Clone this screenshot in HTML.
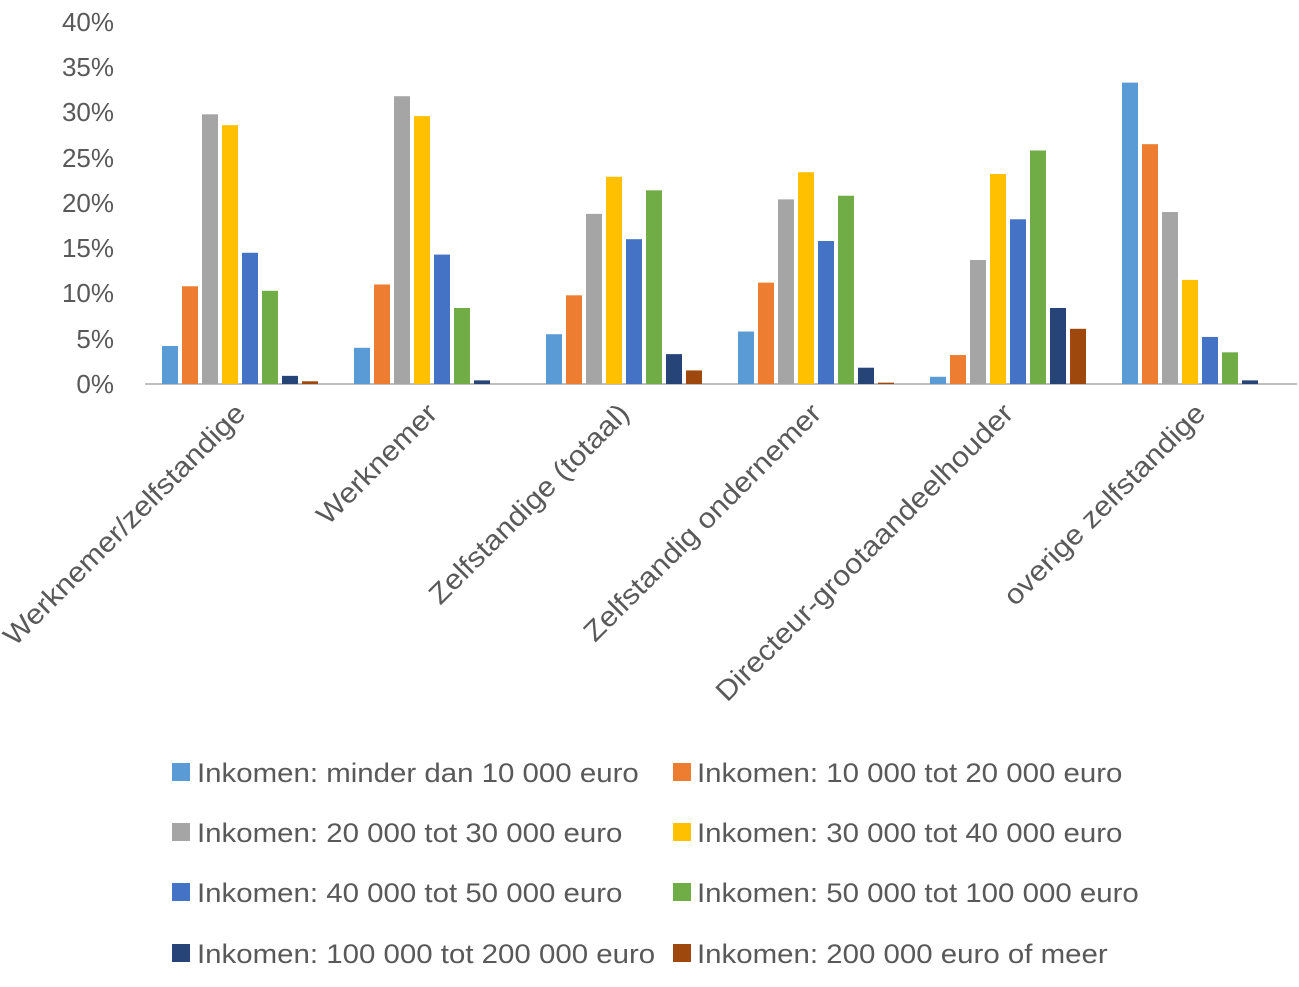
<!DOCTYPE html>
<html><head><meta charset="utf-8"><style>body{margin:0;background:#fff}</style></head><body>
<svg width="1299" height="982" xmlns="http://www.w3.org/2000/svg" font-family="Liberation Sans, sans-serif" fill="#595959">
<g font-size="26" text-anchor="end">
<text x="114" y="393">0%</text><text x="114" y="348">5%</text><text x="114" y="302">10%</text><text x="114" y="257">15%</text><text x="114" y="212">20%</text><text x="114" y="167">25%</text><text x="114" y="121">30%</text><text x="114" y="76">35%</text><text x="114" y="31">40%</text>
</g>
<line x1="145" y1="384" x2="1297" y2="384" stroke="#bfbfbf" stroke-width="2"/>
<g id="bars"></g>
<g font-size="28" text-anchor="end" id="cats"></g>
<g font-size="27" class="leg">
<rect x="172" y="763" width="18" height="18" fill="#5b9bd5"/><text x="197" y="782">Inkomen: minder dan 10 000 euro</text>
<rect x="673" y="763" width="18" height="18" fill="#ed7d31"/><text x="697" y="782">Inkomen: 10 000 tot 20 000 euro</text>
<rect x="172" y="823" width="18" height="18" fill="#a5a5a5"/><text x="197" y="842">Inkomen: 20 000 tot 30 000 euro</text>
<rect x="673" y="823" width="18" height="18" fill="#ffc000"/><text x="697" y="842">Inkomen: 30 000 tot 40 000 euro</text>
<rect x="172" y="883" width="18" height="18" fill="#4472c4"/><text x="197" y="902">Inkomen: 40 000 tot 50 000 euro</text>
<rect x="673" y="883" width="18" height="18" fill="#70ad47"/><text x="697" y="902">Inkomen: 50 000 tot 100 000 euro</text>
<rect x="172" y="944" width="18" height="18" fill="#264478"/><text x="197" y="963">Inkomen: 100 000 tot 200 000 euro</text>
<rect x="673" y="944" width="18" height="18" fill="#9e480e"/><text x="697" y="963">Inkomen: 200 000 euro of meer</text>
</g>
</svg>
<script>
var ns="http://www.w3.org/2000/svg";
var cols=["#5b9bd5","#ed7d31","#a5a5a5","#ffc000","#4472c4","#70ad47","#264478","#9e480e"];
var d=[[4.2,10.8,29.8,28.6,14.5,10.3,0.9,0.3],[4.0,11.0,31.8,29.6,14.3,8.4,0.4,0],[5.5,9.8,18.8,22.9,16.0,21.4,3.3,1.5],[5.8,11.2,20.4,23.4,15.8,20.8,1.8,0.15],[0.8,3.2,13.7,23.2,18.2,25.8,8.4,6.1],[33.3,26.5,19.0,11.5,5.2,3.5,0.4,0]];
var cats=["Werknemer/zelfstandige","Werknemer","Zelfstandige (totaal)","Zelfstandig ondernemer","Directeur-grootaandeelhouder","overige zelfstandige"];
var b=document.getElementById("bars"),c=document.getElementById("cats");
d.forEach(function(g,i){g.forEach(function(v,j){if(!v)return;var h=v*9.05;var r=document.createElementNS(ns,"rect");r.setAttribute("x",162+i*192+j*20);r.setAttribute("width",16);r.setAttribute("y",384-h);r.setAttribute("height",h);r.setAttribute("fill",cols[j]);b.appendChild(r);});
var cx=145+96+i*192+6,cy=415;var t=document.createElementNS(ns,"text");t.setAttribute("x",cx);t.setAttribute("y",cy);t.setAttribute("transform","rotate(-45 "+cx+" "+cy+")");t.textContent=cats[i];c.appendChild(t);
var L=t.getComputedTextLength();t.setAttribute("textLength",L*1.09);t.setAttribute("lengthAdjust","spacingAndGlyphs");});
document.querySelectorAll(".leg text").forEach(function(t){var L=t.getComputedTextLength();t.setAttribute("textLength",L*1.09);t.setAttribute("lengthAdjust","spacingAndGlyphs");});
</script>
</body></html>
